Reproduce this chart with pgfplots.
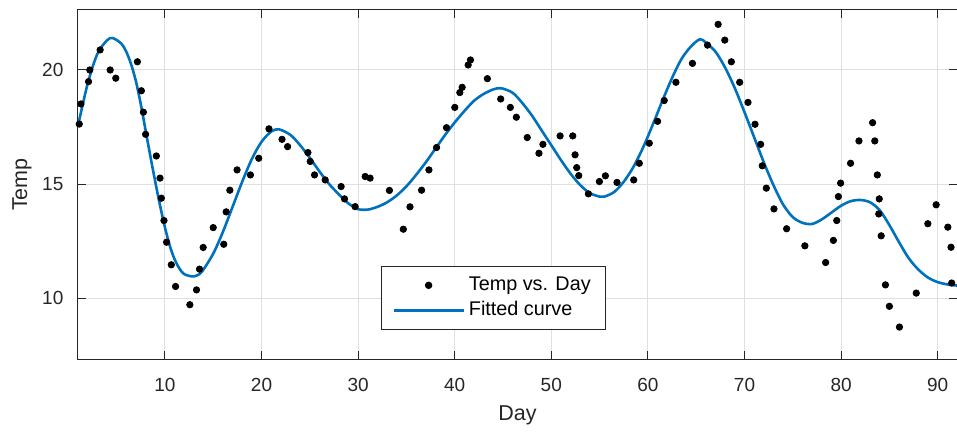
\documentclass[border=0pt]{standalone}
\usepackage{fontspec}
\setmainfont{Liberation Sans}
\usepackage{pgfplots}
\pgfplotsset{compat=1.18}
\definecolor{mblue}{HTML}{0072BD}
\definecolor{axgray}{HTML}{262626}
\definecolor{gridgray}{HTML}{DFDFDF}

\begin{document}
\begin{tikzpicture}
\begin{axis}[
    scale only axis,
    width=439.5pt, height=174.5pt,
    xmin=1, xmax=92, ymin=7.33, ymax=22.63,
    xtick={10,20,...,90}, ytick={10,15,20},
    grid=major,
    major grid style={gridgray, line width=0.5pt},
    axis line style={axgray, line width=0.5pt},
    tick style={axgray, line width=0.5pt},
    tick align=inside, major tick length=4pt,
    ticklabel style={font=\fontsize{9.5}{11}\selectfont, text=axgray},
    /pgf/number format/assume math mode=true,
    xticklabel style={yshift=-6.3pt},
    yticklabel style={xshift=-3.8pt},
    xlabel={Day}, ylabel={Temp},
    label style={font=\fontsize{10.75}{13}\selectfont, text=axgray},
    x label style={at={(axis description cs:0.5,-0.16)}, anchor=center},
    y label style={at={(axis description cs:-0.0637,0.5)}, anchor=center},
    legend cell align=left,
    legend style={
        at={(axis description cs:0.4727,0.1748)}, anchor=center,
        draw=axgray, line width=0.5pt, fill=white,
        font=\fontsize{9.9}{11.5}\selectfont,
        inner xsep=5.5pt, inner ysep=3.5pt, row sep=0pt,
        /tikz/every even column/.append style={column sep=1pt}
    },
]

% measured points
\addplot[only marks, mark=*, mark size=1.6pt, black,
    legend image code/.code={\path[draw=none] (0pt,0pt) -- (35pt,0pt); \fill[black] (17.5pt,0pt) circle (1.6pt);}]
coordinates {
(1.13,17.63) (1.30,18.51) (2.09,19.49) (2.22,20.00) (3.29,20.88) (4.33,20.00)
(4.91,19.64) (7.15,20.36) (7.56,19.09) (7.77,18.15) (8.00,17.18) (9.11,16.23)
(9.49,15.26) (9.63,14.38) (9.90,13.40) (10.17,12.45) (10.66,11.46) (11.10,10.51)
(12.58,9.71) (13.27,10.36) (13.58,11.27) (13.96,12.22) (15.00,13.09) (16.09,12.36)
(16.34,13.78) (16.72,14.73) (17.47,15.62) (18.85,15.40) (19.71,16.13) (20.77,17.42)
(22.12,16.96) (22.70,16.64) (24.80,16.38) (25.04,15.99) (25.49,15.40) (26.59,15.18)
(28.24,14.89) (28.59,14.35) (29.69,14.01) (30.73,15.33) (31.24,15.26) (33.24,14.72)
(34.68,13.02) (35.37,14.00) (36.57,14.73) (37.33,15.62) (38.12,16.60) (39.15,17.47)
(40.01,18.36) (40.53,19.01) (40.77,19.24) (41.39,20.22) (41.63,20.44) (43.38,19.62)
(44.76,18.73) (45.76,18.36) (46.38,17.93) (47.51,17.04) (48.72,16.35) (49.13,16.74)
(50.91,17.11) (52.22,17.11) (52.46,16.28) (52.63,15.72) (52.84,15.37) (53.84,14.57)
(54.98,15.11) (55.60,15.36) (56.80,15.07) (58.53,15.18) (59.11,15.91) (60.14,16.79)
(61.00,17.75) (61.69,18.66) (62.90,19.46) (64.61,20.29) (66.17,21.09) (67.27,22.00)
(67.96,21.31) (68.64,20.36) (69.50,19.46) (70.36,18.58) (71.09,17.62) (71.67,16.74)
(71.84,15.80) (72.26,14.82) (73.05,13.91) (74.36,13.04) (76.25,12.29) (78.40,11.56)
(79.20,12.53) (79.55,13.40) (79.72,14.45) (79.95,15.04) (80.98,15.91) (81.85,16.89)
(83.26,17.69) (83.49,16.89) (83.75,15.40) (83.95,14.35) (83.90,13.69) (84.15,12.73)
(84.59,10.58) (85.00,9.64) (86.04,8.73) (87.78,10.22) (88.98,13.26) (89.84,14.09)
(91.05,13.11) (91.38,12.23) (91.45,10.66)
};
\addlegendentry{Temp vs. Day}

% fitted curve
\addplot[mblue, line width=1.3pt, smooth,
    legend image code/.code={\draw[mblue, line width=1.3pt] (0pt,0pt) -- (35pt,0pt);}]
coordinates {
(1,17.55) (2,19.4) (3,20.7) (4,21.3) (4.6,21.4) (5.5,21.15) (6,20.8) (6.5,20.25)
(7,19.5) (7.5,18.5) (8,17.35) (8.5,16.2) (9,15.1) (9.5,14.05) (10,13.1) (10.5,12.3)
(11,11.7) (11.5,11.3) (12,11.05) (13,10.95) (13.8,11.15) (15,11.95) (16,12.9)
(17,14.0) (18,15.1) (19,16.1) (20,16.85) (21,17.3) (21.8,17.4) (23,17.15) (24,16.7)
(25,16.15) (26,15.55) (27,15.0) (28,14.55) (29,14.15) (30,13.9) (31,13.88) (32,14.0)
(33,14.2) (34,14.5) (35,14.9) (36,15.4) (37,15.95) (38,16.55) (39,17.15) (40,17.7)
(41,18.2) (42,18.65) (43,18.95) (44,19.15) (44.8,19.2) (46,19.0) (47,18.55) (48,18.0)
(49,17.35) (50,16.7) (51,16.05) (52,15.45) (53,14.95) (54,14.6) (55,14.45) (55.5,14.45)
(56.5,14.65) (57.5,15.1) (58.5,15.75) (59.5,16.6) (60.5,17.6) (61.5,18.65) (62.5,19.65)
(63.5,20.5) (64.5,21.05) (65.4,21.35) (66,21.2) (67,20.8) (68,20.1) (69,19.2) (70,18.15)
(71,17.05) (72,15.95) (73,14.95) (74,14.1) (75,13.55) (76,13.3) (77,13.25) (78,13.45)
(79,13.75) (80,14.05) (81,14.25) (82,14.3) (83,14.2) (84,13.85) (85,13.2) (86,12.45)
(87,11.75) (88,11.25) (89,10.9) (90,10.7) (91,10.6) (92,10.55)
};
\addlegendentry{Fitted curve}

\end{axis}
\pgfresetboundingbox
\useasboundingbox ([shift={(-39pt,-36.5pt)}]current axis.south west) rectangle ([shift={(0pt,5pt)}]current axis.north east);
\end{tikzpicture}
\end{document}
